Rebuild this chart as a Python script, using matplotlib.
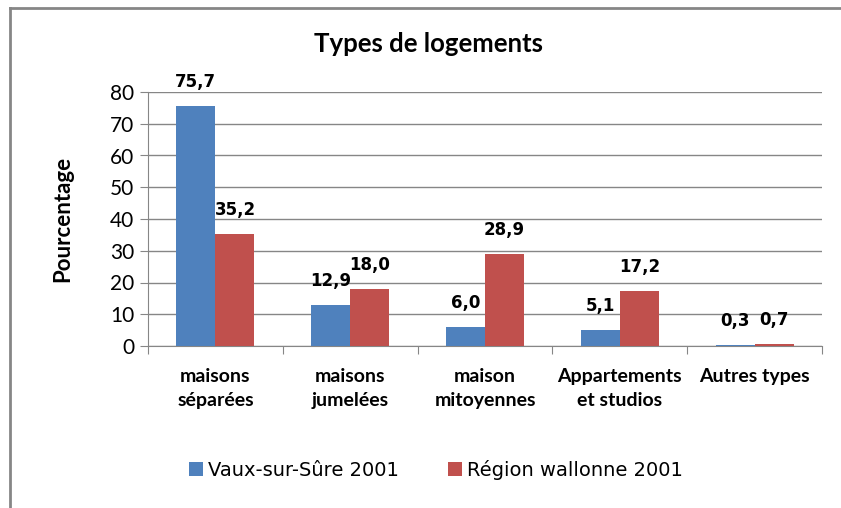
import numpy as np
import matplotlib
matplotlib.use("Agg")
import matplotlib.pyplot as plt
from matplotlib.lines import Line2D

categories = ["maisons\nséparées", "maisons\njumelées", "maison\nmitoyennes",
              "Appartements\net studios", "Autres types"]
vaux = [75.7, 12.9, 6.0, 5.1, 0.3]
wallonie = [35.2, 18.0, 28.9, 17.2, 0.7]
series_names = ["Vaux-sur-Sûre 2001", "Région wallonne 2001"]

blue = "#4F81BD"
red = "#C0504D"
gray = "#868686"

fig = plt.figure(figsize=(8.41, 5.08), dpi=100)
ax = fig.add_axes([148 / 841, 1 - 346 / 508, (822 - 148) / 841, (346 - 92) / 508])

x = np.arange(len(categories))
w = 0.29
b1 = ax.bar(x - w / 2, vaux, w, color=blue, label=series_names[0], zorder=3)
b2 = ax.bar(x + w / 2, wallonie, w, color=red, label=series_names[1], zorder=3)

# value labels sit ~24 px above the bar tops
for bars, vals in [(b1, vaux), (b2, wallonie)]:
    for rect, v in zip(bars, vals):
        ax.annotate(f"{v:.1f}".replace(".", ","),
                    (rect.get_x() + rect.get_width() / 2, v),
                    xytext=(0, 24 * 0.72), textcoords="offset points",
                    ha="center", va="center", fontsize=12, fontweight="bold",
                    family="DejaVu Sans", color="black", zorder=4)

ax.set_ylim(0, 80)
ax.set_xlim(-0.5, len(categories) - 0.5)
ax.set_yticks(range(0, 81, 10))
ax.yaxis.grid(True, color=gray, lw=1, zorder=0)
ax.set_axisbelow(True)
for s in ["top", "right"]:
    ax.spines[s].set_visible(False)
for s in ["left", "bottom"]:
    ax.spines[s].set_color(gray)
ax.tick_params(axis="y", length=6, color=gray, labelsize=15, pad=4)
ax.set_yticklabels([str(t) for t in range(0, 81, 10)], family="Lato")

ax.set_xticks(np.arange(-0.5, len(categories), 1.0))
ax.set_xticklabels([])
ax.tick_params(axis="x", length=6, color=gray)
for xi, c in zip(x, categories):
    ax.text(xi, -7, c, ha="center", va="top", fontsize=14, fontweight="bold",
            family="Lato", linespacing=1.5, transform=ax.transData, clip_on=False)

ax.set_ylabel("Pourcentage", fontsize=16, fontweight="bold", family="Lato")
ax.yaxis.set_label_coords(-(148 - 73) / 674, 0.5)

fig.text(428 / 841, 1 - 44 / 508, "Types de logements", ha="center", va="center",
         fontsize=18.5, fontweight="bold", family="Lato")

leg = fig.legend(handles=[b1, b2], labels=series_names, loc="center",
                 bbox_to_anchor=(436 / 841, 1 - 470 / 508), ncol=2, frameon=False,
                 prop={"family": "DejaVu Sans", "size": 14}, handlelength=0.75,
                 handleheight=0.75, handletextpad=0.25, columnspacing=2.5)

# outer frame of the chart object
fig.add_artist(Line2D([10 / 841, 10 / 841], [0, 1 - 8 / 508], color=gray, lw=2,
                      transform=fig.transFigure))
fig.add_artist(Line2D([10 / 841, 1], [1 - 8 / 508, 1 - 8 / 508], color=gray, lw=2,
                      transform=fig.transFigure))

fig.savefig("out.png", dpi=100)
